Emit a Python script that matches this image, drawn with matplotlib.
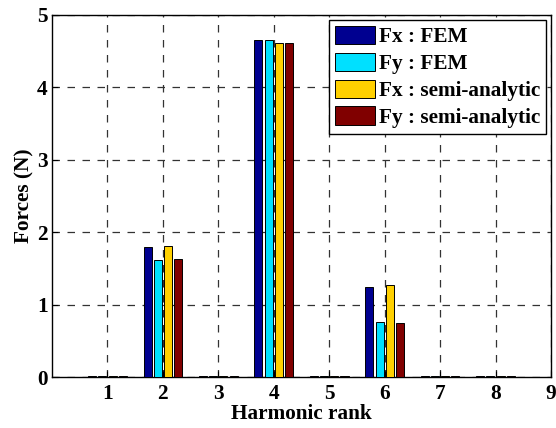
import matplotlib
matplotlib.use("Agg")
import matplotlib.pyplot as plt
import numpy as np

plt.rcParams['font.family'] = ['Liberation Serif', 'DejaVu Serif']
plt.rcParams['font.weight'] = 'bold'

ranks = [1, 2, 3, 4, 5, 6, 7, 8]
fx_fem = [0.01, 1.80, 0.01, 4.66, 0.01, 1.25, 0.01, 0.01]
fy_fem = [0.02, 1.61, 0.02, 4.66, 0.01, 0.76, 0.01, 0.02]
fx_sa = [0.02, 1.81, 0.01, 4.61, 0.01, 1.27, 0.01, 0.02]
fy_sa = [0.01, 1.63, 0.01, 4.61, 0.01, 0.74, 0.01, 0.01]
labels = ['Fx : FEM', 'Fy : FEM', 'Fx : semi-analytic', 'Fy : semi-analytic']
colors = ['#000090', '#00E0FF', '#FFD000', '#800000']

fig = plt.figure(figsize=(5.56, 4.28), dpi=100)
ax = fig.add_axes([0.0935, 0.119, 0.8975, 0.846])

series = [fx_fem, fy_fem, fx_sa, fy_sa]
step = 0.184
width = 0.145
x = np.array(ranks, dtype=float)
for i, (vals, lab, col) in enumerate(zip(series, labels, colors)):
    ax.bar(x + (i - 1.5) * step, vals, width=width, color=col,
           edgecolor='black', linewidth=0.7, label=lab, zorder=3)

FS = 15.3
ax.set_xlim(0, 9)
ax.set_ylim(0, 5)
ax.set_xticks(range(1, 10))
ax.set_yticks(range(0, 6))
ax.tick_params(labelsize=FS, direction='in', length=4)
ax.tick_params(axis='x', pad=5)
ax.tick_params(axis='y', pad=3)
for t in ax.get_xticklabels() + ax.get_yticklabels():
    t.set_fontweight('bold')
ax.grid(True, linestyle=(0, (6, 6)), color='#333333', linewidth=0.9, zorder=0)
ax.set_axisbelow(True)
for s in ax.spines.values():
    s.set_linewidth(1.0)

ax.set_xlabel('Harmonic rank', fontsize=FS, fontweight='bold', labelpad=0)
ax.set_ylabel('Forces (N)', fontsize=FS, fontweight='bold', labelpad=2)

leg = ax.legend(loc='upper right', bbox_to_anchor=(0.99, 0.986), borderaxespad=0,
                prop={'weight': 'bold', 'size': FS},
                handlelength=1.85, handleheight=0.95, handletextpad=0.2,
                labelspacing=0.25, borderpad=0.28, fancybox=False,
                edgecolor='black', framealpha=1)
leg.get_frame().set_linewidth(1.0)

fig.savefig('out.png', dpi=100)
